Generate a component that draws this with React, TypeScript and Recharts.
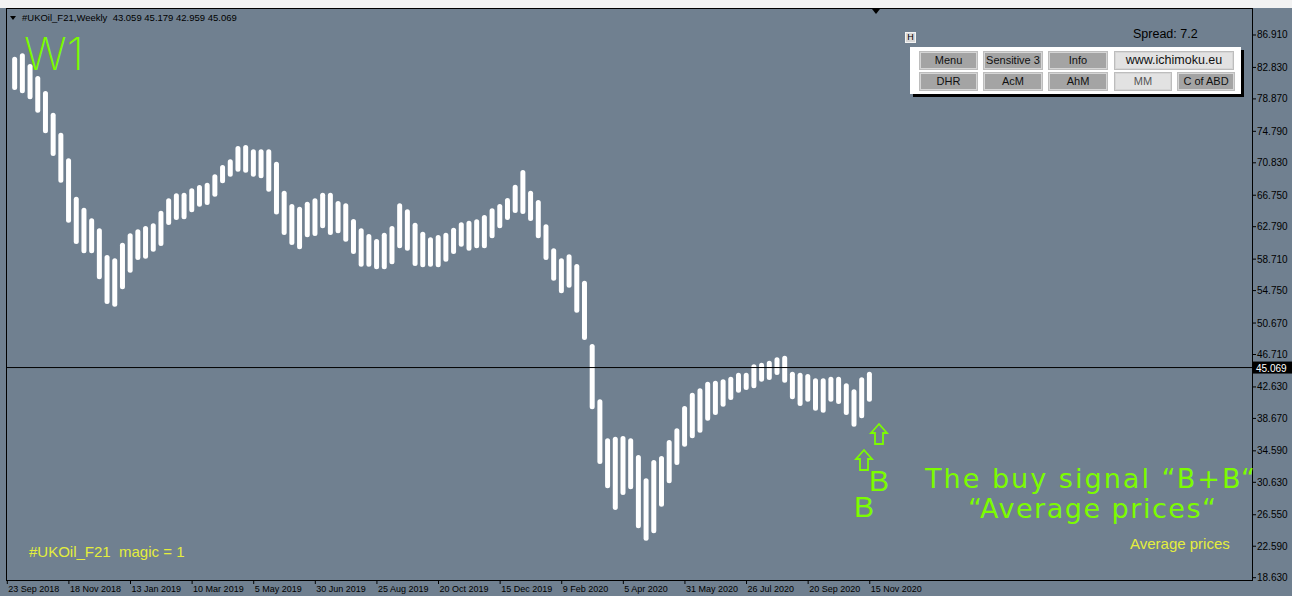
import React from 'react';
import { ComposedChart, Bar, XAxis, YAxis, ReferenceLine } from 'recharts';

// weekly bars from 30 Sep 2018 (week 1) to 15 Nov 2020 (week 112), week 0 = 23 Sep 2018
const highs = [
  84.18, 84.61, 83.26, 81.75, 79.86, 77.13, 74.62, 71.40, 66.56, 65.18,
  63.85, 62.59, 59.23, 58.81, 60.78, 61.96, 62.46, 62.88, 63.22, 64.80,
  66.36, 66.99, 67.07, 67.62, 68.04, 68.33, 69.38, 70.55, 71.27, 72.94,
  73.07, 72.53, 72.53, 72.53, 70.97, 67.32, 65.65, 65.31, 65.94, 66.36,
  67.07, 67.07, 66.02, 65.73, 63.76, 62.59, 61.87, 61.24, 62.04, 62.88,
  65.73, 64.98, 63.29, 62.16, 61.46, 61.75, 62.04, 62.66, 63.34, 63.55,
  63.72, 64.26, 65.11, 65.65, 66.40, 68.08, 69.92, 67.32, 66.15, 63.09,
  60.07, 58.81, 59.32, 58.10, 56.00, 48.03, 41.07, 36.17, 36.37, 36.46,
  36.17, 34.07, 31.13, 33.44, 33.94, 35.95, 37.42, 40.23, 41.90, 42.46,
  43.29, 43.41, 43.59, 43.92, 44.42, 44.42, 45.48, 45.68, 45.93, 46.36,
  46.56, 44.55, 44.42, 44.26, 43.72, 43.72, 43.92, 43.92, 43.09, 42.33,
  43.84, 44.55,
];

const lows = [
  79.99, 79.57, 78.82, 77.13, 74.54, 71.69, 68.33, 63.29, 60.61, 59.44,
  59.44, 56.17, 53.06, 52.73, 54.91, 57.00, 58.60, 58.76, 59.64, 60.36,
  63.00, 63.63, 63.72, 64.60, 65.31, 65.52, 66.56, 68.25, 69.08, 69.71,
  69.58, 69.08, 68.88, 67.19, 64.33, 61.75, 60.49, 59.95, 61.46, 61.62,
  62.59, 61.75, 61.96, 60.90, 59.36, 57.76, 57.76, 57.43, 57.43, 58.06,
  60.07, 59.77, 57.85, 57.68, 57.76, 57.68, 58.39, 59.36, 60.27, 59.77,
  60.07, 60.07, 61.33, 62.59, 63.63, 64.51, 64.39, 63.51, 61.33, 58.60,
  56.00, 54.41, 55.12, 51.97, 48.54, 39.82, 32.93, 29.88, 27.15, 29.03,
  29.75, 24.84, 23.28, 24.21, 27.56, 30.51, 32.81, 35.11, 36.17, 36.87,
  38.38, 39.10, 40.14, 40.99, 41.90, 42.24, 42.46, 43.29, 43.50, 44.13,
  43.16, 41.07, 40.23, 40.77, 39.64, 39.39, 40.77, 40.48, 39.10, 37.63,
  38.68, 40.77,
];

const weekTicks = [0, 8, 16, 24, 32, 40, 48, 56, 64, 72, 80, 88, 96, 104, 112];
const dateLabels = [
  '23 Sep 2018', '18 Nov 2018', '13 Jan 2019', '10 Mar 2019', '5 May 2019',
  '30 Jun 2019', '25 Aug 2019', '20 Oct 2019', '15 Dec 2019', '9 Feb 2020',
  '5 Apr 2020', '31 May 2020', '26 Jul 2020', '20 Sep 2020', '15 Nov 2020',
];

const priceTicks = [
  86.91, 82.83, 78.87, 74.79, 70.83, 66.75, 62.79, 58.71, 54.75,
  50.67, 46.71, 42.63, 38.67, 34.59, 30.63, 26.55, 22.59, 18.63,
];

const lastPrice = 45.069;
const header = '#UKOil_F21,Weekly  43.059 45.179 42.959 45.069';

const topButtons = ['Menu', 'Sensitive 3', 'Info', 'www.ichimoku.eu'];
const bottomButtons = ['DHR', 'AcM', 'AhM', 'MM', 'C of ABD'];

const chartData = highs.map((h, i) => ({ week: i + 1, range: [lows[i], h] }));

const BG = '#708090';
const GREEN = '#7CFC00';
const YELLOW = '#e4ee3c';
const FONT = '"Liberation Sans", Arial, sans-serif';

const DateTick = (props: any) => {
  const { x, y, payload } = props;
  const label = dateLabels[weekTicks.indexOf(payload.value)] ?? '';
  return (
    <g>
      <line x1={x} y1={y} x2={x} y2={y + 4} stroke="#000" />
      <text x={x + 1} y={y + 12} fontSize={9} fontFamily={FONT} fill="#000">{label}</text>
    </g>
  );
};

const PriceTick = (props: any) => {
  const { x, y, payload } = props;
  return (
    <g>
      <line x1={x + 1} y1={y} x2={x + 4} y2={y} stroke="#000" />
      <text x={x + 5} y={y + 3.5} fontSize={10} fontFamily={FONT} fill="#000">
        {payload.value.toFixed(3)}
      </text>
    </g>
  );
};

const PriceTag = (props: any) => {
  const { viewBox } = props;
  const x = viewBox.x + viewBox.width;
  const y = viewBox.y;
  return (
    <g>
      <rect x={x + 1} y={y - 6} width={40} height={12} fill="#000" />
      <text x={x + 4} y={y + 4} fontSize={10} fontFamily={FONT} fill="#fff">{lastPrice.toFixed(3)}</text>
    </g>
  );
};

const Arrow = ({ x, y }: { x: number; y: number }) => (
  <path
    d={`M ${x} ${y} L ${x + 8} ${y + 9} L ${x + 4} ${y + 9} L ${x + 4} ${y + 20} L ${x - 4} ${y + 20} L ${x - 4} ${y + 9} L ${x - 8} ${y + 9} Z`}
    fill="none"
    stroke={GREEN}
    strokeWidth={1.8}
  />
);

const Button = ({ label, left, top, width, light }: { label: string; left: number; top: number; width: number; light?: boolean }) => (
  <div
    style={{
      position: 'absolute', left, top, width, height: 17, boxSizing: 'border-box',
      background: light ? '#e2e2e2' : '#a4a4a4',
      border: '1px solid #d6d6d6', outline: '1px solid #bdbdbd',
      fontSize: label.startsWith('www') ? 12.5 : 11, lineHeight: '15px', textAlign: 'center',
      color: label === 'MM' ? '#555' : '#111', fontFamily: FONT,
    }}
  >
    {label}
  </div>
);

export default function App() {
  const topLefts = [920, 984, 1049, 1115];
  const topWidths = [57, 58, 58, 118];
  const botLefts = [920, 984, 1049, 1115, 1178];
  const botWidths = [57, 58, 58, 56, 56];

  return (
    <div style={{ position: 'absolute', left: 0, top: 0, width: 1292, height: 596, background: BG, overflow: 'hidden', fontFamily: FONT }}>
      <ComposedChart
        width={1292}
        height={596}
        data={chartData}
        margin={{ top: 9, right: 0, bottom: 0, left: 6 }}
      >
        <XAxis
          dataKey="week"
          type="number"
          domain={[-0.169, 161.64]}
          allowDataOverflow
          ticks={weekTicks}
          interval={0}
          height={16}
          tickSize={0}
          tickMargin={0}
          axisLine={false}
          tickLine={false}
          tick={<DateTick />}
        />
        <YAxis
          orientation="right"
          type="number"
          domain={[18.34, 90.18]}
          allowDataOverflow
          ticks={priceTicks}
          interval={0}
          width={40}
          tickSize={0}
          tickMargin={0}
          axisLine={false}
          tickLine={false}
          tick={<PriceTick />}
        />
        <ReferenceLine y={lastPrice} stroke="#000" strokeWidth={1} label={<PriceTag />} />
        <Bar dataKey="range" fill="#ffffff" barSize={5} radius={2.5} isAnimationActive={false} />
      </ComposedChart>

      {/* top strip and frame */}
      <div style={{ position: 'absolute', left: 0, top: 0, width: 1292, height: 8, background: '#f2f2f2' }} />
      <div style={{ position: 'absolute', left: 6, top: 8, width: 1247, height: 573, boxSizing: 'border-box', border: '1px solid #000', pointerEvents: 'none' }} />
      <div style={{ position: 'absolute', left: 872, top: 9, width: 0, height: 0, borderLeft: '4.5px solid transparent', borderRight: '4.5px solid transparent', borderTop: '5px solid #000' }} />

      {/* header */}
      <div style={{ position: 'absolute', left: 10, top: 16, width: 0, height: 0, borderLeft: '3px solid transparent', borderRight: '3px solid transparent', borderTop: '4px solid #000' }} />
      <div style={{ position: 'absolute', left: 22, top: 12, fontSize: 9.5, color: '#000', whiteSpace: 'pre' }}>{header}</div>

      {/* panel */}
      <div style={{ position: 'absolute', left: 905, top: 32, width: 11, height: 11, boxSizing: 'border-box', background: '#d8d8d8', border: '1px solid #f4f4f4', fontSize: 9, lineHeight: '9px', textAlign: 'center', color: '#000' }}>H</div>
      <div style={{ position: 'absolute', left: 1133, top: 27, fontSize: 12.5, color: '#000' }}>Spread: 7.2</div>
      <div style={{ position: 'absolute', left: 910, top: 47, width: 331, height: 47, background: '#fff', boxShadow: '3px 3px 0 #000' }} />
      {topButtons.map((b, i) => (
        <Button key={b} label={b} left={topLefts[i]} top={52} width={topWidths[i]} light={i === 3} />
      ))}
      {bottomButtons.map((b, i) => (
        <Button key={b} label={b} left={botLefts[i]} top={73} width={botWidths[i]} light={i === 3} />
      ))}

      {/* annotations */}
      <svg width={1292} height={596} style={{ position: 'absolute', left: 0, top: 0, pointerEvents: 'none' }}>
        <text x={24} y={70} fontSize={45} fontFamily="Inter, 'DejaVu Sans', sans-serif" fontWeight={200} fill={GREEN}>W1</text>
        <Arrow x={864} y={450} />
        <Arrow x={879} y={424} />
        <text x={869} y={491} fontSize={30} fontFamily={FONT} fill={GREEN}>B</text>
        <text x={854} y={517} fontSize={30} fontFamily={FONT} fill={GREEN}>B</text>
        <text x={925} y={488} fontSize={27} fontFamily="'DejaVu Sans', sans-serif" fill={GREEN} textLength={330} lengthAdjust="spacing">
          The buy signal “B+B“
        </text>
        <text x={968} y={518} fontSize={27} fontFamily="'DejaVu Sans', sans-serif" fill={GREEN} textLength={248} lengthAdjust="spacing">
          “Average prices“
        </text>
        <text x={29} y={557} fontSize={15} fontFamily={FONT} fill={YELLOW} style={{ whiteSpace: 'pre' }}>#UKOil_F21  magic = 1</text>
        <text x={1130} y={549} fontSize={15} fontFamily={FONT} fill={YELLOW}>Average prices</text>
      </svg>
    </div>
  );
}
